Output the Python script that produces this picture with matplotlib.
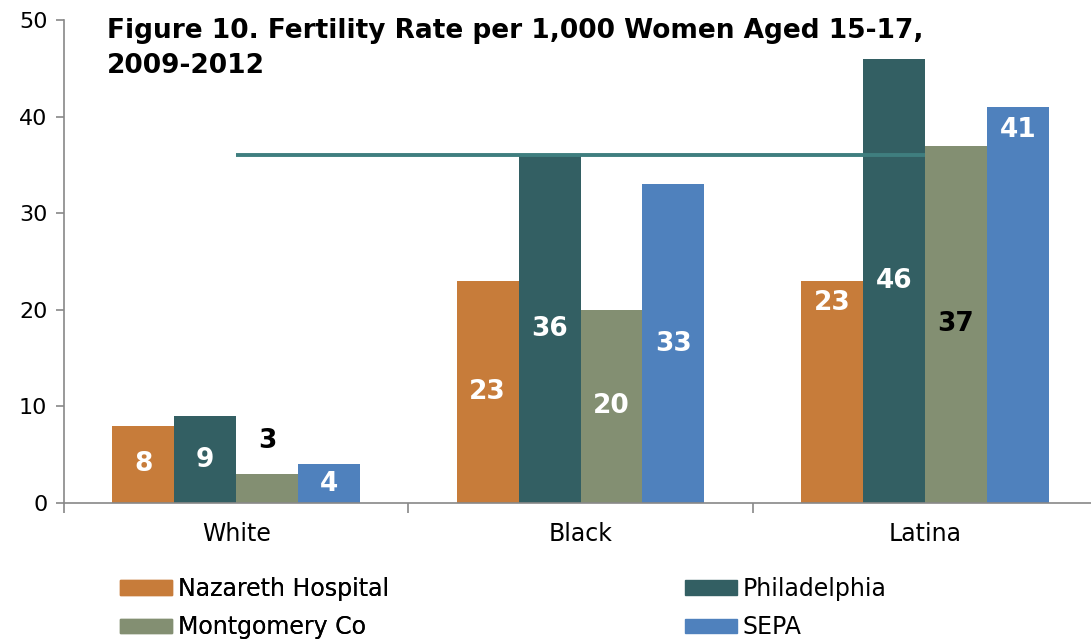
import numpy as np
import matplotlib
matplotlib.use("Agg")
import matplotlib.pyplot as plt
from matplotlib.patches import Patch

plt.rcParams['font.family'] = ['DejaVu Sans']

# data
groups = ["White", "Black", "Latina"]
series = ["Nazareth Hospital", "Philadelphia", "Montgomery Co", "SEPA"]
nazareth = [8, 23, 23]
philadelphia = [9, 36, 46]
montgomery = [3, 20, 37]
sepa = [4, 33, 41]
ref_value = 36  # horizontal reference line (Philadelphia, Black)

colors = ["#C77C3A", "#335F63", "#838F72", "#4F81BD"]
# labels drawn in black (series index, group index)
black_labels = {(2, 0), (2, 2)}
# label y-position overrides (series index, group index) -> y
label_pos = {(2, 0): 6.4, (0, 2): 20.7, (3, 2): 38.6}

fig = plt.figure(figsize=(10.91, 6.41), dpi=100)
ax = fig.add_axes([64 / 1091, 138 / 641, 1033 / 1091, 483 / 641])

x = np.arange(len(groups))
w = 0.18
vals = [nazareth, philadelphia, montgomery, sepa]
for i, v in enumerate(vals):
    xs = x + (i - 1.5) * w
    ax.bar(xs, v, width=w, color=colors[i], zorder=2)
    for j, val in enumerate(v):
        y = label_pos.get((i, j), val / 2)
        lc = "black" if (i, j) in black_labels else "white"
        ax.text(xs[j], y, str(val), ha="center", va="center", color=lc,
                fontsize=19, fontweight="bold", zorder=4)

ax.plot([x[0], x[-1]], [ref_value, ref_value], color="#3F7E7F", lw=2.8,
        zorder=3, solid_capstyle="butt")

ax.set_xlim(-0.5, 2.5)
ax.set_ylim(0, 50)
ax.set_yticks(range(0, 51, 10))
ax.set_xticks(x)
ax.set_xticklabels(groups)
ax.set_xticks([-0.5, 0.5, 1.5, 2.5], minor=True)
ax.tick_params(axis="x", which="major", length=0, labelsize=17, pad=14)
ax.tick_params(axis="x", which="minor", length=7, color="#888888", width=1.2)
ax.tick_params(axis="y", length=6, color="#888888", width=1.2, labelsize=16, pad=6)
for s in ["top", "right"]:
    ax.spines[s].set_visible(False)
for s in ["left", "bottom"]:
    ax.spines[s].set_color("#888888")
    ax.spines[s].set_linewidth(1.2)

fig.text(107 / 1091, 1 - 31 / 641, "Figure 10. Fertility Rate per 1,000 Women Aged 15-17,",
         fontsize=19, fontweight="bold", va="center", ha="left")
fig.text(107 / 1091, 1 - 66 / 641, "2009-2012",
         fontsize=19, fontweight="bold", va="center", ha="left")

handles = [Patch(color=c) for c in colors]
leg_kw = dict(loc="center left", frameon=False, fontsize=17, handlelength=2.2,
              handleheight=0.6, handletextpad=0.25, labelspacing=0.62,
              borderaxespad=0, borderpad=0)
leg1 = fig.legend([handles[0], handles[2]], [series[0], series[2]],
                  bbox_to_anchor=(120 / 1091, 1 - 608 / 641), **leg_kw)
leg2 = fig.legend([handles[1], handles[3]], [series[1], series[3]],
                  bbox_to_anchor=(685 / 1091, 1 - 608 / 641), **leg_kw)
fig.add_artist(leg1)

fig.savefig("out.png", dpi=100)
